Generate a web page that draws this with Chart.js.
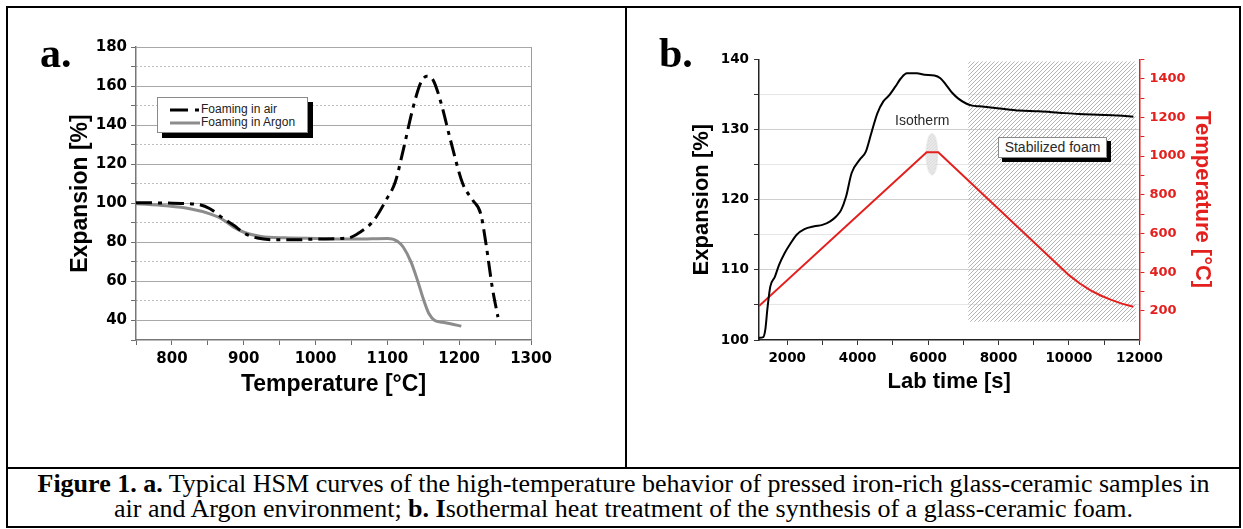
<!DOCTYPE html>
<html>
<head>
<meta charset="utf-8">
<title>HSM curves and isothermal foaming</title>
<script src="https://cdn.jsdelivr.net/npm/chart.js@4.4.1/dist/chart.umd.min.js"></script>
<style>
    body { margin: 0; background: #fff; }
    #page { position: relative; width: 1243px; height: 529px; overflow: hidden; font-family: "Liberation Sans", Arial, sans-serif; }
    .rule { position: absolute; background: #000; }
    .tag { position: absolute; font: bold 42px/42px "Liberation Serif", serif; color: #000; }
    .wrap { position: absolute; width: 600px; height: 440px; }
    .note { position: absolute; font-size: 14px; line-height: 16px; color: #2a2a2a; white-space: nowrap; z-index: 2; }
    .shadow { position: absolute; background: #000; z-index: 2; }
    .framebox { position: absolute; background: #fff; border: 1px solid #8a8a8a; box-sizing: border-box; z-index: 3; }
    #legendA .row { position: absolute; left: 12px; height: 12px; font-size: 12px; line-height: 12px; color: #222; white-space: nowrap; }
    #legendA svg { vertical-align: middle; margin-right: 1px; }
    #caption { position: absolute; left: 8px; top: 471px; width: 1231px; text-align: center; font: 26px/25px "Liberation Serif", "Times New Roman", serif; color: #000; }
</style>
</head>
<body>
<div id="page">
    <div class="rule" style="left:6px;top:6px;width:1235px;height:2px"></div>
    <div class="rule" style="left:6px;top:6px;width:2px;height:522px"></div>
    <div class="rule" style="left:1239px;top:6px;width:2px;height:522px"></div>
    <div class="rule" style="left:6px;top:526px;width:1235px;height:2px"></div>
    <div class="rule" style="left:6px;top:467px;width:1235px;height:2px"></div>
    <div class="rule" style="left:625px;top:6px;width:2px;height:462px"></div>

    <div class="wrap" style="left:16px;top:16px"><canvas id="chartA"></canvas></div>
    <div class="wrap" style="left:632px;top:16px"><canvas id="chartB"></canvas></div>

    <div class="tag" style="left:40px;top:32px">a.</div>
    <div class="tag" style="left:659px;top:32px">b.</div>

    <div class="shadow" style="left:162px;top:102px;width:151px;height:36px"></div>
    <div id="legendA" class="framebox" style="left:157px;top:97px;width:151px;height:36px"></div>

    <div class="note" style="left:895px;top:112px">Isotherm</div>
    <div class="shadow" style="left:1002px;top:141px;width:109px;height:21px"></div>
    <div class="framebox note" style="left:998px;top:137px;width:109px;height:21px;text-align:center;line-height:19px">Stabilized foam</div>

    <div id="caption"><b>Figure 1. a.</b> Typical HSM curves of the high-temperature behavior of pressed iron-rich glass-ceramic samples in<br>air and Argon environment; <b>b. I</b>sothermal heat treatment of the synthesis of a glass-ceramic foam.</div>
</div>

<script>
// panel a: HSM curves, temperature [°C] vs expansion [%]
const airTemp = [750, 792, 836, 853, 869, 886, 902, 919, 946, 974, 1001, 1045, 1062, 1081, 1098, 1111, 1122, 1136, 1147, 1155, 1164, 1175, 1188, 1205, 1219, 1230, 1238, 1246, 1254];
const airExp = [100.3, 100.1, 99.4, 97.2, 92.9, 88.7, 84.4, 82.2, 81.3, 81.3, 81.7, 82.2, 85.2, 91.2, 101.5, 110.9, 127.1, 149.3, 162.1, 165.0, 162.9, 151.0, 132.2, 110.0, 101.5, 94.6, 77.6, 57.1, 41.7];
const argonTemp = [750, 792, 825, 853, 869, 886, 902, 924, 957, 1001, 1056, 1100, 1114, 1122, 1133, 1142, 1150, 1158, 1166, 1177, 1188, 1203];
const argonExp = [99.8, 98.7, 97.2, 94.6, 92.1, 87.8, 84.9, 83.0, 82.3, 82.0, 81.7, 82.0, 80.6, 77.6, 69.9, 60.5, 51.1, 43.4, 40.0, 39.1, 38.3, 37.1];
const aXLabels = [800, 900, 1000, 1100, 1200, 1300];
const aYLabels = [40, 60, 80, 100, 120, 140, 160, 180];

// panel b: lab time [s] vs expansion [%] and furnace temperature [°C]
const labTime = [1200, 1320, 1380, 1440, 1520, 1650, 1770, 1930, 2100, 2270, 2490, 2770, 3000, 3220, 3390, 3530, 3670, 3830, 4060, 4230, 4390, 4560, 4730, 4900, 5070, 5230, 5400, 5680, 5900, 6180, 6350, 6520, 6690, 6860, 7080, 7250, 7470, 8030, 8590, 9150, 9710, 10270, 10830, 11390, 11830];
const expansion = [100.3, 100.4, 101.5, 104.5, 107.6, 109.0, 110.7, 112.4, 113.8, 115.0, 115.8, 116.2, 116.4, 116.9, 117.6, 118.5, 120.4, 123.8, 125.7, 126.8, 129.5, 132.3, 134.0, 134.9, 136.1, 137.3, 138.0, 138.0, 137.8, 137.7, 137.3, 136.3, 135.2, 134.4, 133.7, 133.4, 133.3, 133.0, 132.7, 132.6, 132.4, 132.2, 132.1, 132.0, 131.8];
const rampTime = [1200, 5960, 6290, 10000, 10300, 10600, 10900, 11200, 11500, 11830];
const rampTemp = [225, 1020, 1020, 385, 343, 308, 280, 257, 238, 222];
const isothermPoint = [6110, 126.5];
const foamZone = [7140, 11900, 102.6, 139.7];   // time from, time to, expansion from, to
const bXTicks = [2000, 3000, 4000, 5000, 6000, 7000, 8000, 9000, 10000, 11000, 12000];
const bXLabels = [2000, 4000, 6000, 8000, 10000, 12000];
const bYLabels = [100, 110, 120, 130, 140];
const bTLabels = [200, 400, 600, 800, 1000, 1200, 1400];

const tickFont = size => ({ family: 'DejaVu Sans', weight: 'bold', size: size });
const titleFont = size => ({ family: 'Liberation Sans', weight: 'bold', size: size, lineHeight: 1 });
const RED = '#e3201e';

function pairs(xs, ys) {
    return xs.map((x, i) => ({ x: x, y: ys[i] }));
}

function hatchPattern(color, size) {
    const tile = document.createElement('canvas');
    tile.width = size;
    tile.height = size;
    const g = tile.getContext('2d');
    g.strokeStyle = color;
    g.lineWidth = 1;
    g.beginPath();
    g.moveTo(0, size); g.lineTo(size, 0);
    g.moveTo(-1, 1); g.lineTo(1, -1);
    g.moveTo(size - 1, size + 1); g.lineTo(size + 1, size - 1);
    g.stroke();
    return g.createPattern(tile, 'repeat');
}

function ellipseImage() {
    const c = document.createElement('canvas');
    c.width = 13;
    c.height = 43;
    const g = c.getContext('2d');
    g.beginPath();
    g.ellipse(6.5, 21.5, 5.5, 20.5, 0, 0, Math.PI * 2);
    g.fillStyle = '#f2f2f2';
    g.fill();
    g.fillStyle = hatchPattern('#cbcbcb', 3);
    g.fill();
    g.strokeStyle = '#dadada';
    g.stroke();
    return c;
}

// move the plot area onto the place it has in the figure
function fitArea(chart, box) {
    const a = chart.chartArea;
    const p = chart.options.layout.padding;
    chart.options.layout.padding = {
        left: p.left + box[0] - a.left,
        top: p.top + box[1] - a.top,
        right: p.right + a.right - box[2],
        bottom: p.bottom + a.bottom - box[3]
    };
    chart.update();
}

function createChartA() {
    const chart = new Chart(document.getElementById('chartA'), {
        type: 'line',
        data: {
            datasets: [{
                label: 'Foaming in air',
                data: pairs(airTemp, airExp),
                borderColor: '#000',
                borderWidth: 3,
                borderDash: [16, 6, 4, 6],
                pointRadius: 0,
                cubicInterpolationMode: 'monotone'
            }, {
                label: 'Foaming in Argon',
                data: pairs(argonTemp, argonExp),
                borderColor: '#8c8c8c',
                borderWidth: 3,
                pointRadius: 0,
                cubicInterpolationMode: 'monotone'
            }]
        },
        options: {
            responsive: true,
            maintainAspectRatio: false,
            animation: false,
            events: [],
            layout: { padding: { left: 50, top: 31, right: 85, bottom: 60 } },
            plugins: { legend: { display: false }, tooltip: { enabled: false } },
            scales: {
                x: {
                    type: 'linear',
                    min: 750,
                    max: 1300,
                    ticks: {
                        stepSize: 50,
                        autoSkip: false,
                        maxRotation: 0,
                        padding: 5,
                        color: '#000',
                        font: tickFont(15),
                        callback: v => aXLabels.includes(v) ? v : ''
                    },
                    grid: {
                        color: c => c.tick && c.tick.value === 1300 ? '#9c9c9c' : 'transparent',
                        tickColor: '#6c6c6c',
                        tickLength: 5
                    },
                    border: { color: '#777', width: 1.5 },
                    title: { display: true, text: 'Temperature [°C]', color: '#000', font: titleFont(23), padding: 0 }
                },
                y: {
                    min: 30,
                    max: 180,
                    ticks: {
                        stepSize: 10,
                        autoSkip: false,
                        padding: 4,
                        color: '#000',
                        font: tickFont(15),
                        callback: v => aYLabels.includes(v) ? v : ''
                    },
                    grid: {
                        color: c => c.tick && aYLabels.includes(c.tick.value) ? '#a8a8a8' : 'transparent',
                        tickColor: '#6c6c6c',
                        tickLength: 5
                    },
                    border: { color: '#777', width: 1.5 },
                    title: { display: true, text: 'Expansion [%]', color: '#000', font: titleFont(23), padding: { top: 3, bottom: 0 } }
                },
                yMinor: {
                    position: 'left',
                    min: 30,
                    max: 180,
                    ticks: { display: false, stepSize: 10 },
                    grid: {
                        color: c => c.tick && c.tick.value % 20 === 10 && c.tick.value > 30 ? '#bdbdbd' : 'transparent',
                        drawTicks: false
                    },
                    border: { display: false, dash: [2, 2] },
                    afterFit: s => { s.width = 0; }
                }
            }
        }
    });
    fitArea(chart, [120, 31, 515, 324]);

    // legend box built from the datasets
    const legend = document.getElementById('legendA');
    chart.data.datasets.forEach((ds, i) => {
        const row = document.createElement('div');
        row.className = 'row';
        row.style.top = (5 + i * 13.4) + 'px';
        const dash = ds.borderDash ? '18 7 4 7' : 'none';
        row.innerHTML = '<svg width="30" height="6"><line x1="0" y1="3" x2="30" y2="3" stroke="' + ds.borderColor +
            '" stroke-width="3" stroke-dasharray="' + dash + '"/></svg>' + ds.label;
        legend.appendChild(row);
    });
}

function createChartB() {
    const chart = new Chart(document.getElementById('chartB'), {
        type: 'line',
        data: {
            datasets: [{
                label: 'Expansion',
                data: pairs(labTime, expansion),
                borderColor: '#000',
                borderWidth: 2,
                pointRadius: 0,
                cubicInterpolationMode: 'monotone',
                yAxisID: 'y'
            }, {
                label: 'Temperature',
                data: pairs(rampTime, rampTemp),
                borderColor: RED,
                borderWidth: 2,
                pointRadius: 0,
                tension: 0,
                yAxisID: 'yT'
            }, {
                label: 'Isotherm',
                data: [{ x: isothermPoint[0], y: isothermPoint[1] }],
                pointStyle: ellipseImage(),
                pointRadius: 6,
                showLine: false,
                yAxisID: 'y'
            }, {
                label: 'Stabilized foam',
                data: [{ x: foamZone[0], y: foamZone[3] }, { x: foamZone[1], y: foamZone[3] }],
                borderWidth: 0,
                pointRadius: 0,
                fill: { value: foamZone[2] },
                backgroundColor: hatchPattern('#b4b4b4', 4),
                yAxisID: 'y'
            }]
        },
        options: {
            responsive: true,
            maintainAspectRatio: false,
            animation: false,
            events: [],
            layout: { padding: { left: 60, top: 43, right: 20, bottom: 60 } },
            plugins: { legend: { display: false }, tooltip: { enabled: false } },
            scales: {
                x: {
                    type: 'linear',
                    min: 1200,
                    max: 12000,
                    afterBuildTicks: axis => { axis.ticks = bXTicks.map(v => ({ value: v })); },
                    ticks: {
                        autoSkip: false,
                        maxRotation: 0,
                        padding: 5,
                        color: '#000',
                        font: tickFont(13.5),
                        callback: v => bXLabels.includes(v) ? v : ''
                    },
                    grid: {
                        drawOnChartArea: false,
                        tickColor: '#333',
                        tickLength: 5
                    },
                    border: { color: '#222', width: 1.5 },
                    title: { display: true, text: 'Lab time [s]', color: '#000', font: titleFont(22), padding: 0 }
                },
                y: {
                    min: 100,
                    max: 140,
                    ticks: {
                        stepSize: 5,
                        autoSkip: false,
                        padding: 5,
                        color: '#000',
                        font: tickFont(13.5),
                        callback: v => bYLabels.includes(v) ? v : ''
                    },
                    grid: {
                        color: c => {
                            const v = c.tick ? c.tick.value : 100;
                            if (v === 100 || v === 140) return 'transparent';
                            return v % 10 === 0 ? '#cfcfcf' : '#e6e6e6';
                        },
                        tickColor: '#333',
                        tickLength: 5
                    },
                    border: { color: '#222', width: 1.5 },
                    title: { display: true, text: 'Expansion [%]', color: '#000', font: titleFont(22), padding: 3 }
                },
                yT: {
                    position: 'right',
                    min: 50,
                    max: 1500,
                    ticks: {
                        stepSize: 100,
                        autoSkip: false,
                        padding: 5,
                        color: RED,
                        font: tickFont(13),
                        callback: v => bTLabels.includes(v) ? v : ''
                    },
                    grid: {
                        drawOnChartArea: false,
                        tickColor: c => c.tick && c.tick.value === 50 ? 'transparent' : RED,
                        tickLength: 5
                    },
                    border: { color: RED, width: 1.5 },
                    title: { display: true, text: 'Temperature [°C]', color: RED, font: titleFont(22), padding: { top: 3, bottom: 0 } }
                }
            }
        }
    });
    fitArea(chart, [127, 43.3, 507.4, 324]);
}

createChartA();
createChartB();
</script>
</body>
</html>
